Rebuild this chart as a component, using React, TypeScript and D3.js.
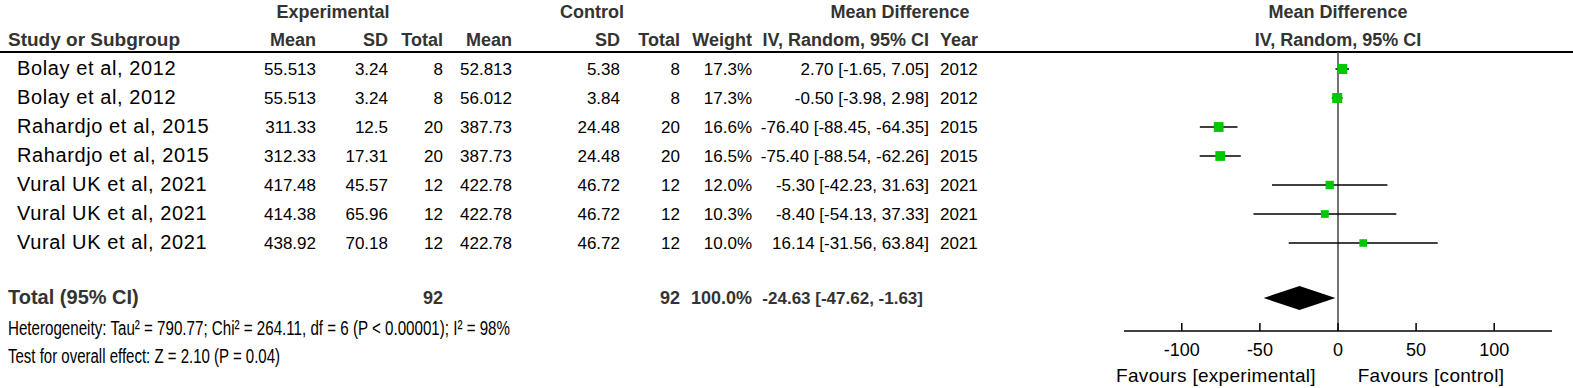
import * as d3 from "d3";

const studies = [
  "Bolay et al, 2012",
  "Bolay et al, 2012",
  "Rahardjo et al, 2015",
  "Rahardjo et al, 2015",
  "Vural UK et al, 2021",
  "Vural UK et al, 2021",
  "Vural UK et al, 2021",
];
const expMean = ["55.513", "55.513", "311.33", "312.33", "417.48", "414.38", "438.92"];
const expSD = ["3.24", "3.24", "12.5", "17.31", "45.57", "65.96", "70.18"];
const expTotal = ["8", "8", "20", "20", "12", "12", "12"];
const ctlMean = ["52.813", "56.012", "387.73", "387.73", "422.78", "422.78", "422.78"];
const ctlSD = ["5.38", "3.84", "24.48", "24.48", "46.72", "46.72", "46.72"];
const ctlTotal = ["8", "8", "20", "20", "12", "12", "12"];
const weights = [17.3, 17.3, 16.6, 16.5, 12.0, 10.3, 10.0];
const md = [2.7, -0.5, -76.4, -75.4, -5.3, -8.4, 16.14];
const lo = [-1.65, -3.98, -88.45, -88.54, -42.23, -54.13, -31.56];
const hi = [7.05, 2.98, -64.35, -62.26, 31.63, 37.33, 63.84];
const years = ["2012", "2012", "2015", "2015", "2021", "2021", "2021"];

const pooled = { md: -24.63, lo: -47.62, hi: -1.63 };
const axisTicks = [-100, -50, 0, 50, 100];

const FONT = "'Liberation Sans', Arial, sans-serif";
const W = 1573;
const H = 388;

const fmtCI = (i: number) =>
  `${md[i].toFixed(2)} [${lo[i].toFixed(2)}, ${hi[i].toFixed(2)}]`;

export default function App() {
  // forest plot scale
  const x = d3.scaleLinear().domain([-137, 137]).range([1124, 1552]);
  const rowY = d3.scaleLinear().domain([0, 1]).range([69, 98]);
  const sq = d3.scaleSqrt().domain([0, 17.3]).range([0, 10]);

  const axisY = 331;
  const totalY = 298;

  const dataFont = { fontFamily: FONT, fontSize: 17, fill: "#000" };
  const nameFont = { fontFamily: FONT, fontSize: 20, letterSpacing: 0.6, fill: "#000" };
  const headFont = { fontFamily: FONT, fontSize: 18, fontWeight: 700, fill: "#333" };

  const cols: { right: number; vals: string[]; head: string }[] = [
    { right: 316, vals: expMean, head: "Mean" },
    { right: 388, vals: expSD, head: "SD" },
    { right: 443, vals: expTotal, head: "Total" },
    { right: 512, vals: ctlMean, head: "Mean" },
    { right: 620, vals: ctlSD, head: "SD" },
    { right: 680, vals: ctlTotal, head: "Total" },
    { right: 752, vals: weights.map((w) => `${w.toFixed(1)}%`), head: "Weight" },
    { right: 929, vals: md.map((_, i) => fmtCI(i)), head: "IV, Random, 95% CI" },
  ];

  const diamond = [
    [x(pooled.lo), totalY],
    [x(pooled.md), totalY - 12],
    [x(pooled.hi), totalY],
    [x(pooled.md), totalY + 12],
  ];

  return (
    <svg width={W} height={H} style={{ position: "absolute", left: 0, top: 0 }}>
      <rect width={W} height={H} fill="#fff" />

      {/* group headers */}
      <g style={headFont} textAnchor="middle">
        <text x={333} y={18}>Experimental</text>
        <text x={592} y={18}>Control</text>
        <text x={900} y={18}>Mean Difference</text>
        <text x={1338} y={18}>Mean Difference</text>
        <text x={1338} y={46}>IV, Random, 95% CI</text>
      </g>
      <g style={headFont}>
        <text x={8} y={46} fontSize={19}>Study or Subgroup</text>
        {cols.map((c, i) => (
          <text key={i} x={c.right} y={46} textAnchor="end">
            {c.head}
          </text>
        ))}
        <text x={940} y={46}>Year</text>
      </g>
      <line x1={0} x2={W} y1={52} y2={52} stroke="#000" strokeWidth={2} />

      {/* rows */}
      {studies.map((s, i) => (
        <g key={i}>
          <text x={17} y={rowY(i) + 6} style={nameFont}>{s}</text>
          <g style={dataFont}>
            {cols.map((c, j) => (
              <text key={j} x={c.right} y={rowY(i) + 6} textAnchor="end">
                {c.vals[i]}
              </text>
            ))}
            <text x={940} y={rowY(i) + 6}>{years[i]}</text>
          </g>
        </g>
      ))}

      {/* totals */}
      <g style={headFont}>
        <text x={8} y={totalY + 6} fontSize={20}>Total (95% CI)</text>
        <text x={cols[2].right} y={totalY + 6} textAnchor="end">92</text>
        <text x={cols[5].right} y={totalY + 6} textAnchor="end">92</text>
        <text x={cols[6].right} y={totalY + 6} textAnchor="end">100.0%</text>
        <text x={cols[7].right - 6} y={totalY + 6} textAnchor="end" fontSize={17}>
          {`${pooled.md.toFixed(2)} [${pooled.lo.toFixed(2)}, ${pooled.hi.toFixed(2)}]`}
        </text>
      </g>
      <g style={{ ...dataFont, fontSize: 20 }}>
        <text x={8} y={335} textLength={502} lengthAdjust="spacingAndGlyphs">
          Heterogeneity: Tau² = 790.77; Chi² = 264.11, df = 6 (P &lt; 0.00001); I² = 98%
        </text>
        <text x={8} y={363} textLength={272} lengthAdjust="spacingAndGlyphs">
          Test for overall effect: Z = 2.10 (P = 0.04)
        </text>
      </g>

      {/* forest plot */}
      <line x1={x(0)} x2={x(0)} y1={52} y2={axisY} stroke="#444" strokeWidth={1.5} />
      {studies.map((_, i) => {
        const s = sq(weights[i]);
        return (
          <g key={i}>
            <line
              x1={x(lo[i])}
              x2={x(hi[i])}
              y1={rowY(i)}
              y2={rowY(i)}
              stroke="#000"
              strokeWidth={1.5}
            />
            <rect
              x={x(md[i]) - s / 2}
              y={rowY(i) - s / 2}
              width={s}
              height={s}
              fill="#00c800"
            />
          </g>
        );
      })}
      <polygon points={diamond.map((p) => p.join(",")).join(" ")} fill="#000" />

      <line x1={x.range()[0]} x2={x.range()[1]} y1={axisY} y2={axisY} stroke="#000" strokeWidth={1.5} />
      <g style={dataFont} textAnchor="middle">
        {axisTicks.map((t) => (
          <g key={t}>
            <line x1={x(t)} x2={x(t)} y1={axisY - 8} y2={axisY} stroke="#000" strokeWidth={1.5} />
            <text x={x(t)} y={axisY + 25} fontSize={18}>{t}</text>
          </g>
        ))}
        <text x={1216} y={382} fontSize={19} letterSpacing={0.3}>Favours [experimental]</text>
        <text x={1431} y={382} fontSize={19} letterSpacing={0.3}>Favours [control]</text>
      </g>
    </svg>
  );
}
